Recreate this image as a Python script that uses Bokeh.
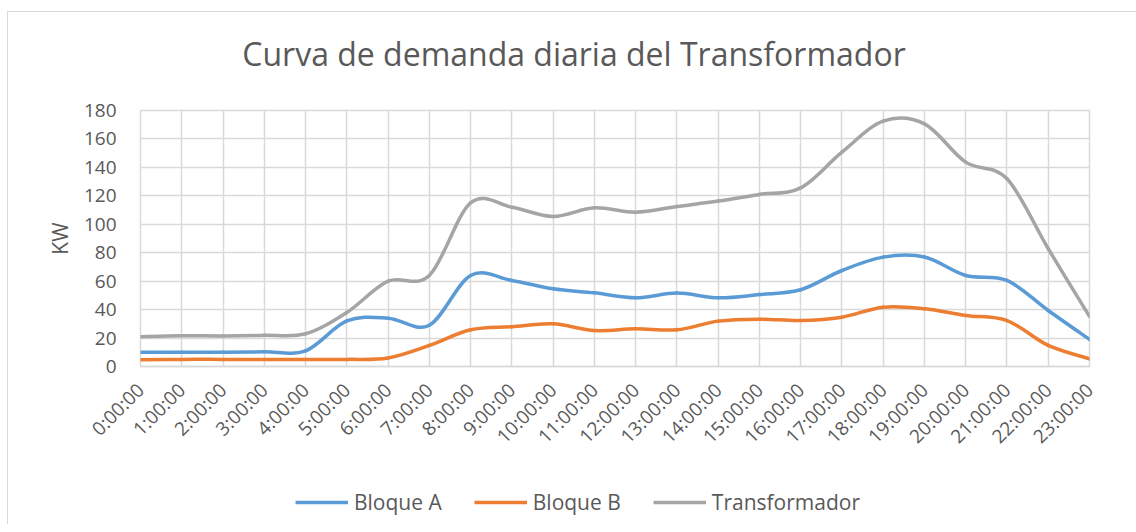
import numpy as np
from bokeh.plotting import figure
from bokeh.layouts import column
from bokeh.models import Range1d, FixedTicker, Legend, LegendItem, Label
from bokeh.embed import file_html
from bokeh.resources import INLINE

# ---- data ----
hours = ["0:00:00", "1:00:00", "2:00:00", "3:00:00", "4:00:00", "5:00:00",
         "6:00:00", "7:00:00", "8:00:00", "9:00:00", "10:00:00", "11:00:00",
         "12:00:00", "13:00:00", "14:00:00", "15:00:00", "16:00:00", "17:00:00",
         "18:00:00", "19:00:00", "20:00:00", "21:00:00", "22:00:00", "23:00:00"]
bloque_a = [10, 10, 10, 10.3, 11, 32, 34, 29, 64, 60.5, 54.6, 51.8,
            48.3, 51.6, 48.3, 50.6, 54, 67.5, 76.9, 77, 64, 60.5, 39.4, 19]
bloque_b = [4.7, 5, 5, 5, 5, 5, 6, 14.8, 25.8, 28, 30, 25.3,
            26.5, 25.8, 31.9, 33.3, 32.3, 34.7, 41.7, 40.6, 35.9, 32.3, 14.8, 5.4]
transformador = [21, 21.6, 21.5, 22, 23, 38, 60, 64, 115, 112, 105.5, 111.6,
                 108.5, 112.5, 116.3, 121, 125.6, 150.7, 172.5, 170.6, 143.7, 132, 82.8, 35.2]
y_ticks = [0, 20, 40, 60, 80, 100, 120, 140, 160, 180]
series_names = ["Bloque A", "Bloque B", "Transformador"]
series_colors = ["#5B9BD5", "#ED7D31", "#A5A5A5"]
chart_title = "Curva de demanda diaria del Transformador"

FONT = "Open Sans"
TXT = "#595959"
GRID = "#d9d9d9"
TOTAL_W = 1128


def smooth_segments(ys):
    """Bezier segments (Catmull-Rom style, like a spreadsheet 'smoothed line')."""
    y = np.asarray(ys, float)
    n = len(y)
    x = np.arange(n, dtype=float)
    px = np.concatenate([[x[0]], x, [x[-1]]])
    py = np.concatenate([[y[0]], y, [y[-1]]])
    return dict(
        x0=x[:-1], y0=y[:-1], x1=x[1:], y1=y[1:],
        cx0=x[:-1] + (px[2:n + 1] - px[0:n - 1]) / 6.0,
        cy0=y[:-1] + (py[2:n + 1] - py[0:n - 1]) / 6.0,
        cx1=x[1:] - (px[3:n + 2] - px[1:n]) / 6.0,
        cy1=y[1:] - (py[3:n + 2] - py[1:n]) / 6.0,
    )


def blank_figure(h):
    f = figure(width=TOTAL_W, height=h, x_axis_type=None, y_axis_type=None,
               output_backend="svg", toolbar_location=None, min_border=0)
    f.outline_line_color = None
    f.grid.visible = False
    return f


# ---- title strip ----
p0 = blank_figure(86)
p0.add_layout(Label(x=433.5, y=45, x_units="screen", y_units="screen",
                    text=chart_title, text_align="center", text_baseline="alphabetic",
                    text_font=FONT, text_font_size="32px", text_color=TXT))

# ---- main chart ----
p = figure(frame_width=949, frame_height=256,
           x_range=Range1d(0, len(hours) - 1), y_range=Range1d(y_ticks[0], y_ticks[-1]),
           output_backend="svg", toolbar_location=None,
           min_border_left=132, min_border_right=47,
           min_border_top=12, min_border_bottom=100)
p.outline_line_color = GRID
p.outline_line_width = 1.5

p.xgrid.grid_line_color = GRID
p.xgrid.grid_line_width = 1.5
p.ygrid.grid_line_color = GRID
p.ygrid.grid_line_width = 1.5

p.xaxis.ticker = FixedTicker(ticks=list(range(len(hours))))
p.xaxis.major_label_overrides = {i: h for i, h in enumerate(hours)}
p.xaxis.major_label_orientation = np.pi / 4
p.xaxis.major_tick_line_color = None
p.xaxis.minor_tick_line_color = None
p.xaxis.axis_line_color = GRID
p.xaxis.axis_line_width = 1.5
p.xaxis.major_label_text_font = FONT
p.xaxis.major_label_text_font_size = "19px"
p.xaxis.major_label_text_color = TXT
p.xaxis.major_label_standoff = 14

p.yaxis.ticker = FixedTicker(ticks=y_ticks)
p.yaxis.axis_line_color = None
p.yaxis.major_tick_line_color = None
p.yaxis.minor_tick_line_color = None
p.yaxis.major_label_text_font = FONT
p.yaxis.major_label_text_font_size = "19px"
p.yaxis.major_label_text_color = TXT
p.yaxis.major_label_standoff = 18
p.yaxis.axis_label = "KW"
p.yaxis.axis_label_text_font = FONT
p.yaxis.axis_label_text_font_size = "21px"
p.yaxis.axis_label_text_font_style = "normal"
p.yaxis.axis_label_text_color = TXT
p.yaxis.axis_label_standoff = 7

for ys, col in zip([bloque_a, bloque_b, transformador], series_colors):
    p.bezier(source=smooth_segments(ys), x0="x0", y0="y0", x1="x1", y1="y1",
             cx0="cx0", cy0="cy0", cx1="cx1", cy1="cy1",
             line_color=col, line_width=3.5, line_cap="round")

# ---- legend strip (one-point swatch renderers, only used for the legend keys) ----
p2 = blank_figure(58)
items = []
for name, col in zip(series_names, series_colors):
    r = p2.line(x=[0], y=[0], line_color=col, line_width=3.5)
    items.append(LegendItem(label=name, renderers=[r]))
legend = Legend(items=items, orientation="horizontal", location=(155, 8),
                glyph_width=53, glyph_height=20, label_standoff=6, spacing=32,
                padding=0, margin=0, border_line_color=None, background_fill_alpha=0,
                label_text_font=FONT, label_text_font_size="21px", label_text_color=TXT)
p2.add_layout(legend)

layout = column(p0, p, p2, spacing=0)
layout.styles = {"margin-left": "7px", "margin-top": "11px",
                 "border-left": "1px solid #d9d9d9", "border-top": "1px solid #d9d9d9"}

open("out.html", "w").write(file_html(layout, INLINE))
